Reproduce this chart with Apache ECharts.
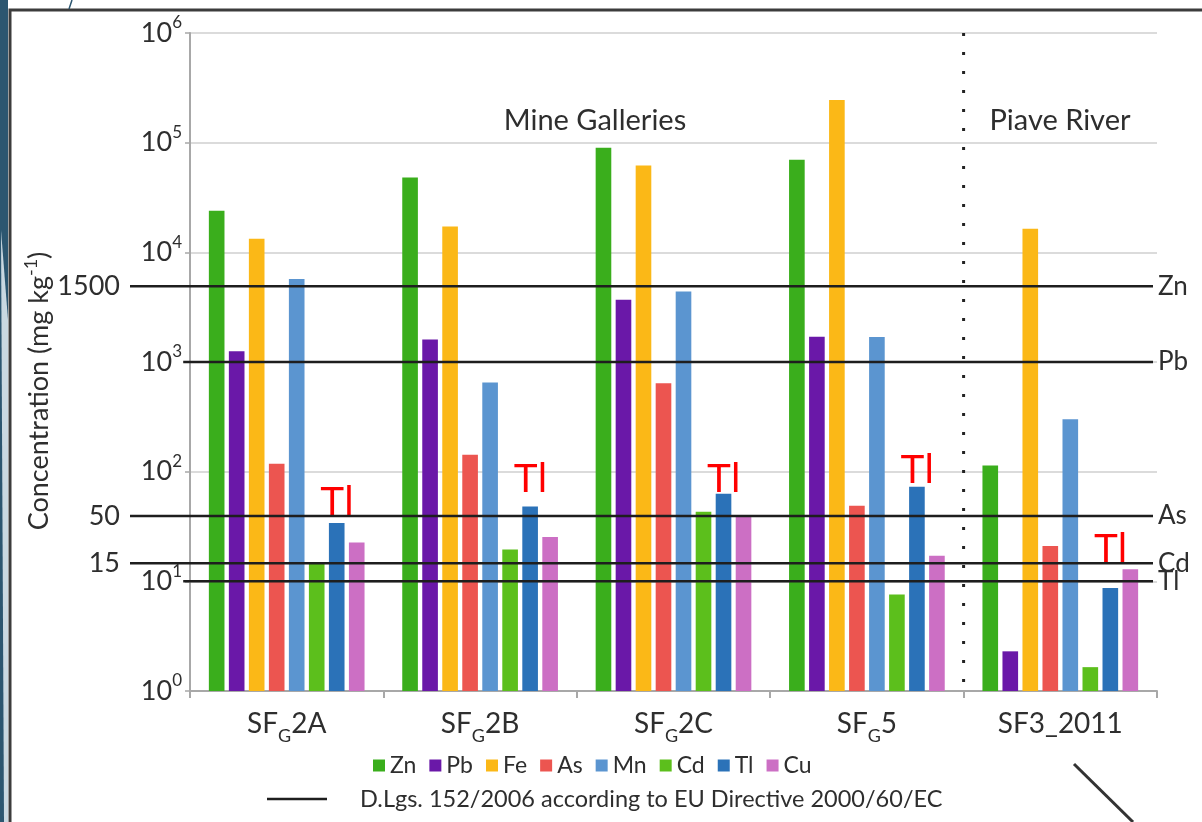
<!DOCTYPE html>
<html><head><meta charset="utf-8">
<script src="https://cdn.jsdelivr.net/npm/echarts@6/dist/echarts.min.js"></script>
<style>html,body{margin:0;padding:0;background:#fff}#c{width:1202px;height:822px}</style>
</head><body><div id="c"></div>
<script>
// ---- data ----
const categories = ['SFG2A', 'SFG2B', 'SFG2C', 'SFG5', 'SF3_2011'];
const elements = ['Zn', 'Pb', 'Fe', 'As', 'Mn', 'Cd', 'Tl', 'Cu'];
const znVals = [24000, 48000, 90000, 70000, 114];
const pbVals = [1250, 1600, 3700, 1700, 2.3];
const feVals = [13300, 17200, 62000, 245000, 16400];
const asVals = [118, 143, 640, 49, 21];
const mnVals = [5700, 650, 4400, 1690, 300];
const cdVals = [14.9, 19.5, 43, 7.6, 1.65];
const tlVals = [34, 48, 63, 73, 8.7];
const cuVals = [22.6, 25.4, 39, 17.1, 12.9];
const yExponents = [0, 1, 2, 3, 4, 5, 6];
const thresholdElements = ['Zn', 'Pb', 'As', 'Cd', 'Tl'];
const thresholdLeftLabels = ['1500', '', '50', '15', ''];
const thresholdLevels = [4900, 1000, 39.5, 14.6, 10];   // positions as drawn in the picture
const groupLabels = ['Mine Galleries', 'Piave River'];
const dividerAt = 4;   // boundary between SFG5 and SF3_2011 (category units)
const legendLineText = 'D.Lgs. 152/2006 according to EU Directive 2000/60/EC';

// ---- styles ----
const colors = ['#3aae1c', '#6a18a8', '#fbb817', '#ec5550', '#5b95d0', '#5cbf1c', '#2b72b8', '#cc6fc4'];
const tlLabelGap = [-1, 6, -7, -5, 17];
const thresholdStart = [0, 0.052, 0, 0, 0.052];   // fraction of the threshold band where each line starts
const FONT = 'Lato';
const TXT = '#2e2e2e';

const seriesVals = [znVals, pbVals, feVals, asVals, mnVals, cdVals, tlVals, cuVals];

const chart = echarts.init(document.getElementById('c'), null, {renderer: 'canvas'});

const barSeries = elements.map((el, i) => {
  const s = {
    name: el, type: 'bar', xAxisIndex: 0, yAxisIndex: 0,
    barGap: '28%', barCategoryGap: '19.5%',
    itemStyle: {color: colors[i]},
    silent: true,
    data: seriesVals[i].slice()
  };
  if (el === 'Tl') {
    s.data = seriesVals[i].map((v, k) => ({value: v, label: {distance: tlLabelGap[k]}}));
    s.label = {show: true, position: 'top', formatter: 'Tl', color: '#ff0000',
      fontFamily: 'Liberation Sans', fontSize: 40};
  }
  return s;
});

const thrName = legendLineText;
const thrSeries = thresholdLevels.map((lvl, i) => ({
  name: thrName, type: 'line', xAxisIndex: 2, yAxisIndex: 1, z: 5, silent: true,
  symbol: 'none',
  itemStyle: {color: '#1e1e1e'},
  lineStyle: {color: '#1e1e1e', width: 2.5},
  endLabel: {show: true, formatter: thresholdElements[i], fontFamily: FONT, fontSize: 26, color: TXT, distance: 5},
  data: [
    {value: [thresholdStart[i], lvl], symbol: 'circle', symbolSize: 0.01,
     label: {show: thresholdLeftLabels[i] !== '', position: 'left', distance: 10,
       formatter: thresholdLeftLabels[i], fontFamily: FONT, fontSize: 27, color: TXT}},
    [1, lvl]
  ]
}));

const dividerSeries = {
  name: 'divider', type: 'line', xAxisIndex: 1, yAxisIndex: 0, z: 4, silent: true,
  symbol: 'none',
  lineStyle: {color: '#222', width: 3, type: [3, 16]},
  data: [[dividerAt, 1e6], [dividerAt, 1]]
};

const option = {
  animation: false,
  backgroundColor: '#ffffff',
  textStyle: {fontFamily: FONT},
  graphic: [
    {type: 'rect', z: -10, shape: {x: 10, y: 10, width: 1300, height: 900},
     style: {fill: '#ffffff', stroke: '#3c3c3c', lineWidth: 3}},
    {type: 'rect', z: -9, shape: {x: 0, y: 0, width: 8, height: 822}, style: {fill: '#2c5670'}},
    {type: 'polygon', z: -8, shape: {points: [[1, 230], [8, 320], [8, 822], [4, 822]]}, style: {fill: '#c9d8e1'}},
    {type: 'line', z: -8, shape: {x1: 72, y1: 0, x2: 69, y2: 9}, style: {stroke: '#2c5670', lineWidth: 1.5}},
    {type: 'line', z: 10, shape: {x1: 1074, y1: 764, x2: 1133, y2: 822}, style: {stroke: '#333', lineWidth: 3}},
    {type: 'text', z: 10, style: {text: groupLabels[0], x: 595, y: 121, align: 'center', verticalAlign: 'middle',
      font: '29px Lato', fill: TXT}},
    {type: 'text', z: 10, style: {text: groupLabels[1], x: 1060, y: 121, align: 'center', verticalAlign: 'middle',
      font: '29px Lato', fill: TXT}}
  ],
  legend: [
    {data: elements, left: 368, top: 749, icon: 'rect', itemWidth: 12, itemHeight: 12, itemGap: 13,
     textStyle: {fontFamily: FONT, fontSize: 23, color: TXT}, selectedMode: false},
    {data: [thrName], left: 262, top: 782, icon: 'rect', itemWidth: 60, itemHeight: 2.5,
     textStyle: {fontFamily: FONT, fontSize: 23.5, color: TXT, padding: [0, 0, 0, 28]}, selectedMode: false}
  ],
  grid: [
    {left: 190, right: 45, top: 33, bottom: 131},
    {left: 130, right: 49, top: 33, bottom: 131}
  ],
  xAxis: [
    {type: 'category', gridIndex: 0, data: categories,
     axisLine: {lineStyle: {color: '#a8a8a8', width: 2}},
     axisTick: {show: true, interval: 0, length: 7, lineStyle: {color: '#a8a8a8', width: 2}},
     axisLabel: {interval: 0, margin: 17, fontFamily: FONT, fontSize: 28, color: TXT, lineHeight: 32,
       formatter: v => v.replace(/^SFG/, 'SF{sub|G}'),
       rich: {sub: {fontFamily: FONT, fontSize: 18, color: TXT, lineHeight: 18, padding: [24, 0, 0, 0]}}}},
    {type: 'value', gridIndex: 0, min: 0, max: 5, show: false},
    {type: 'value', gridIndex: 1, min: 0, max: 1, show: false}
  ],
  yAxis: [
    {type: 'log', gridIndex: 0, logBase: 10, min: 1, max: 1e6,
     name: 'Concentration (mg kg{sup|-1})', nameLocation: 'middle', nameGap: 134,
     nameTextStyle: {fontFamily: FONT, fontSize: 27, color: TXT, padding: [0, 58, 0, 0],
       rich: {sup: {fontFamily: FONT, fontSize: 18, color: TXT, padding: [0, 0, 16, 0]}}},
     axisLine: {show: true, lineStyle: {color: '#a8a8a8', width: 2}},
     axisTick: {show: true, length: 5, lineStyle: {color: '#a8a8a8', width: 1.5}},
     splitLine: {show: true, lineStyle: {color: '#cfcfcf', width: 1.5}},
     axisLabel: {margin: 8, fontFamily: FONT, fontSize: 27, color: TXT, lineHeight: 30,
       formatter: v => '10{sup|' + yExponents[Math.round(Math.log10(v))] + '}',
       rich: {sup: {fontFamily: FONT, fontSize: 17, color: TXT, lineHeight: 17, padding: [0, 0, 20, 0]}}}},
    {type: 'log', gridIndex: 1, logBase: 10, min: 1, max: 1e6, show: false}
  ],
  series: [...barSeries, dividerSeries, ...thrSeries]
};
chart.setOption(option);
</script></body></html>
